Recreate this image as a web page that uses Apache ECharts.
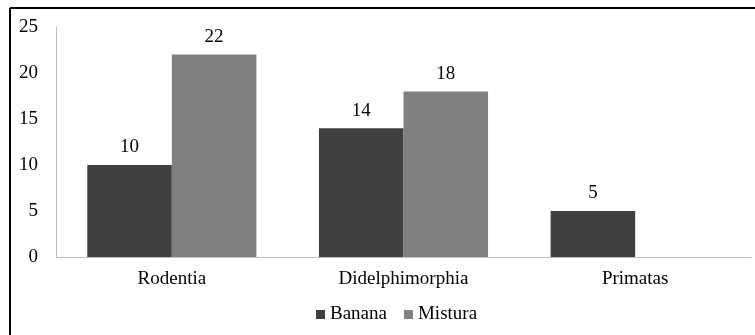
<!DOCTYPE html>
<html><head><meta charset="utf-8">
<script src="https://cdn.jsdelivr.net/npm/echarts@6/dist/echarts.min.js"></script>
<style>html,body{margin:0;padding:0;background:#fff}#c{width:755px;height:335px}</style>
</head><body><div id="c"></div>
<script>
const categories = ['Rodentia', 'Didelphimorphia', 'Primatas'];
const banana = [10, 14, 5];
const mistura = [22, 18, 0];
const yTicks = [0, 5, 10, 15, 20, 25];
const FONT = '"Liberation Serif", "Times New Roman", serif';

const chart = echarts.init(document.getElementById('c'), null, {renderer: 'canvas'});
chart.setOption({
  animation: false,
  backgroundColor: '#fff',
  textStyle: {fontFamily: FONT},
  grid: {left: 56, right: 4, top: 27, bottom: 78},
  legend: {
    data: ['Banana', 'Mistura'], top: 300, left: 311,
    itemWidth: 9, itemHeight: 9, itemGap: 17,
    textStyle: {fontFamily: FONT, fontSize: 19, color: '#000', padding: [0, 0, 0, 0]},
    icon: 'rect'
  },
  xAxis: {
    type: 'category', data: categories,
    axisLine: {lineStyle: {color: '#bfbfbf', width: 1}},
    axisTick: {show: false},
    axisLabel: {fontFamily: FONT, fontSize: 19, color: '#000', margin: 13}
  },
  yAxis: {
    type: 'value', min: 0, max: 25, interval: 5,
    axisLine: {show: true, lineStyle: {color: '#bfbfbf', width: 1}},
    axisTick: {show: false},
    splitLine: {show: false},
    axisLabel: {fontFamily: FONT, fontSize: 19, color: '#000', margin: 18,
      formatter: v => yTicks.includes(v) ? String(v) : ''}
  },
  series: [
    {name: 'Banana', type: 'bar', data: banana, barGap: '0%', barCategoryGap: '27%',
     itemStyle: {color: '#404040'},
     label: {show: true, position: 'top', distance: 8, fontFamily: FONT, fontSize: 19, color: '#000'}},
    {name: 'Mistura', type: 'bar', data: mistura,
     itemStyle: {color: '#808080'},
     label: {show: true, position: 'top', distance: 8, fontFamily: FONT, fontSize: 19, color: '#000',
       formatter: p => p.value ? String(p.value) : ''}}
  ],
  graphic: [
    {type: 'line', shape: {x1: 10, y1: 8, x2: 755, y2: 8}, style: {stroke: '#000', lineWidth: 2}},
    {type: 'line', shape: {x1: 10, y1: 8, x2: 10, y2: 335}, style: {stroke: '#000', lineWidth: 2}}
  ]
});
</script></body></html>
